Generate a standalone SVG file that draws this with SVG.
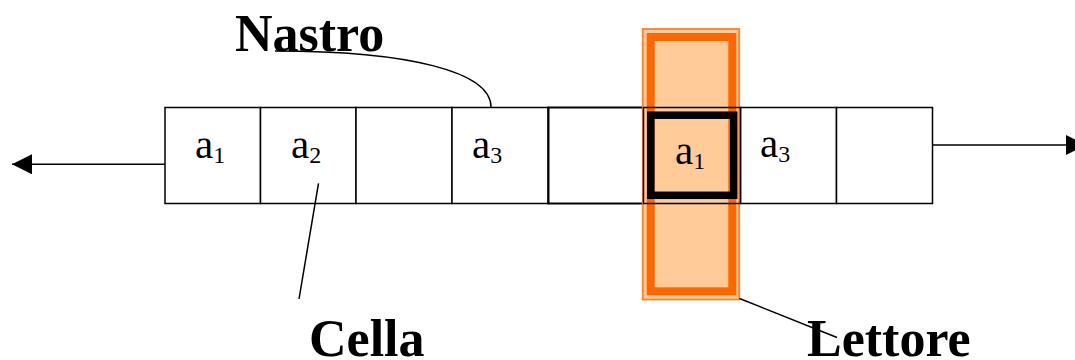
<svg xmlns="http://www.w3.org/2000/svg" width="1075" height="360" viewBox="0 0 1075 360">
  <style>
    .cell { fill: #ffffff; stroke: #000000; stroke-width: 1.5; }
    .sym { font-family: "Liberation Serif", "Times New Roman", serif; font-size: 41px; fill: #000000; }
    .sub { font-size: 24px; }
    .label { font-family: "Liberation Serif", "Times New Roman", serif; font-size: 52px; font-weight: bold; fill: #000000; }
    .lead { fill: none; stroke: #000000; stroke-width: 1.5; }
  </style>
  <defs>
    <marker id="head" viewBox="0 0 20 20" refX="20" refY="10" markerWidth="20" markerHeight="20" markerUnits="userSpaceOnUse" orient="auto">
      <path d="M0,0 L20,10 L0,20 Z" fill="#000000"/>
    </marker>
  </defs>

  <rect width="1075" height="360" fill="#ffffff"/>

  <!-- tape cells -->
  <g id="tape">
    <rect id="cell1" class="cell" x="165" y="107.5" width="95.5" height="96"/>
    <rect id="cell2" class="cell" x="260.5" y="107.5" width="95.5" height="96"/>
    <rect id="cell3" class="cell" x="356" y="107.5" width="96" height="96"/>
    <rect id="cell4" class="cell" x="452" y="107.5" width="96" height="96"/>
    <rect id="cell5" class="cell" x="548.5" y="107.5" width="95.5" height="96" style="stroke-width:2"/>
    <rect id="cell7" class="cell" x="740.5" y="107.5" width="96" height="96"/>
    <rect id="cell8" class="cell" x="836.5" y="107.5" width="96" height="96"/>
  </g>

  <!-- read head -->
  <g id="lettore-head">
    <rect x="642.8" y="29" width="96.4" height="270.5" fill="#FFCC99" stroke="#FF7F2A" stroke-width="1.8"/>
    <rect x="650.7" y="37" width="81.6" height="254.3" fill="none" stroke="#FF6600" stroke-width="8"/>
  </g>

  <!-- current cell under the head -->
  <g id="cell6">
    <rect x="643.5" y="107.5" width="97" height="96" fill="none" stroke="#000000" stroke-width="1.5"/>
    <rect x="650.8" y="115.2" width="82.9" height="80.1" fill="none" stroke="#000000" stroke-width="7.5"/>
  </g>

  <!-- cell symbols -->
  <g id="symbols">
    <text class="sym" x="195" y="158">a<tspan class="sub" dy="5">1</tspan></text>
    <text class="sym" x="291" y="158">a<tspan class="sub" dy="5">2</tspan></text>
    <text class="sym" x="472" y="158">a<tspan class="sub" dy="5">3</tspan></text>
    <text class="sym" x="675" y="164">a<tspan class="sub" dy="5">1</tspan></text>
    <text class="sym" x="760" y="157">a<tspan class="sub" dy="5">3</tspan></text>
  </g>

  <!-- connectors -->
  <g id="connectors">
    <line class="lead" x1="165" y1="164.3" x2="12" y2="164.3" marker-end="url(#head)"/>
    <line class="lead" x1="932.5" y1="145" x2="1086" y2="145" marker-end="url(#head)"/>
    <path class="lead" d="M275,51 C410,51 491,72 491,107"/>
    <line class="lead" x1="318.5" y1="183.3" x2="299" y2="299"/>
    <line class="lead" x1="739.5" y1="298.5" x2="837" y2="337.5"/>
  </g>

  <!-- labels -->
  <g id="labels">
    <text class="label" x="309" y="356">Cella</text>
    <text class="label" x="807" y="356">Lettore</text>
    <text class="label" x="235" y="51">Nastro</text>
  </g>
</svg>
